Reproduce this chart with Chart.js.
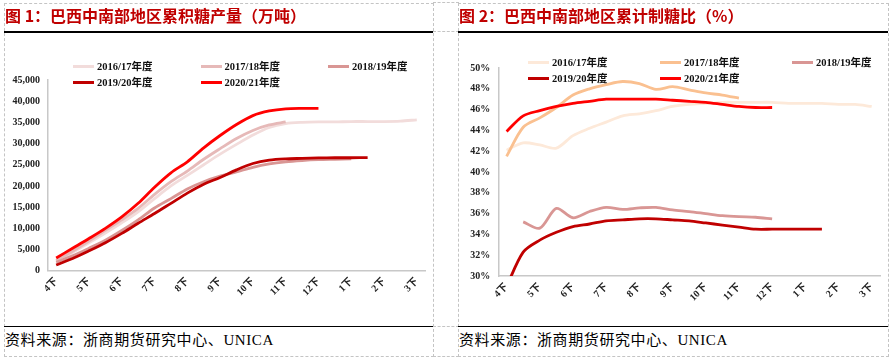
<!DOCTYPE html>
<html>
<head>
<meta charset="utf-8">
<script src="https://cdn.jsdelivr.net/npm/chart.js@4.4.1/dist/chart.umd.min.js"></script>
<style>
  body { margin: 0; background: #fff; width: 891px; height: 358px; position: relative; overflow: hidden; }
  .abs { position: absolute; }
  .dash { position: absolute; border: 1px dashed #c4c4c4; box-sizing: border-box; }
  .hl { position: absolute; height: 0; border-top: 1px dashed #c4c4c4; }
  .solid { position: absolute; height: 1.5px; background: #000; }
  .title { position: absolute; font: bold 16px "Noto Sans CJK SC", sans-serif; color: #c00000; white-space: nowrap; line-height: 20px; z-index: 3; }
  .src { position: absolute; font: 15px "Liberation Serif", "Noto Sans CJK SC", serif; color: #000; letter-spacing: 0.6px; white-space: nowrap; line-height: 20px; z-index: 3; }
  .leg { position: absolute; font: bold 10.5px "Liberation Serif", "Noto Sans CJK SC", serif; color: #111; white-space: nowrap; line-height: 14px; z-index: 3; }
  .leg i { display: inline-block; width: 21px; height: 3px; vertical-align: middle; margin-right: 3px; margin-top: -2px; }
  canvas { position: absolute; z-index: 2; }
</style>
</head>
<body>
<div class="dash" style="left:4px;top:3px;width:430px;height:354px;"></div>
<div class="dash" style="left:458px;top:3px;width:431px;height:354px;"></div>
<div class="hl" style="left:433px;top:2px;width:26px;"></div>
<div class="hl" style="left:433px;top:31px;width:26px;"></div>
<div class="hl" style="left:433px;top:326px;width:26px;"></div>
<div class="hl" style="left:433px;top:356px;width:26px;"></div>
<div class="solid" style="left:4px;top:31px;width:429px;"></div>
<div class="solid" style="left:458px;top:31px;width:430px;"></div>
<div class="solid" style="left:4px;top:325.5px;width:429px;"></div>
<div class="solid" style="left:458px;top:325.5px;width:430px;"></div>

<div class="title" style="left:5px;top:5px;">图 1：巴西中南部地区累积糖产量（万吨）</div>
<div class="title" style="left:459px;top:5px;">图 2：巴西中南部地区累计制糖比（%）</div>
<div class="src" style="left:5px;top:330px;">资料来源：浙商期货研究中心、UNICA</div>
<div class="src" style="left:459px;top:330px;">资料来源：浙商期货研究中心、UNICA</div>

<div id="leg1"></div>
<div id="leg2"></div>

<canvas id="c1" width="434" height="320" style="left:0;top:0;"></canvas>
<canvas id="c2" width="446" height="320" style="left:445px;top:0;"></canvas>

<script>
// 半月度：4下 ... 3下
const periods = ['4下','5上','5下','6上','6下','7上','7下','8上','8下','9上','9下','10上','10下','11上','11下','12上','12下','1上','1下','2上','2下','3上','3下'];
const seasons = ['2016/17年度', '2017/18年度', '2018/19年度', '2019/20年度', '2020/21年度'];

// 累积糖产量
const prod1617 = [2200, 4300, 6600, 8900, 11300, 13900, 17000, 20000, 22500, 25000, 27500, 29800, 32000, 33800, 34700, 35000, 35100, 35100, 35200, 35200, 35200, 35300, 35600];
const prod1718 = [2400, 4600, 7000, 9500, 12000, 14700, 18000, 21000, 23500, 26300, 28800, 31200, 33100, 34400, 35100];
const prod1819 = [2000, 3500, 5300, 7200, 9500, 12000, 14800, 17000, 19300, 21000, 22300, 23300, 24400, 25200, 25700, 26000, 26200, 26300, 26400];
const prod1920 = [1350, 2900, 4700, 6600, 8800, 11200, 13500, 15900, 18300, 20400, 22000, 23800, 25300, 26100, 26400, 26500, 26600, 26650, 26650, 26700];
const prod2021 = [3000, 5300, 7600, 10000, 12700, 15900, 19700, 23100, 25700, 29000, 31900, 34500, 36600, 37700, 38200, 38300, 38300];

// 累计制糖比 %
const tsr1617 = [42.1, 42.8, 42.6, 42.3, 43.5, 44.2, 44.8, 45.4, 45.6, 45.9, 46.3, 46.5, 46.6, 46.7, 46.7, 46.7, 46.7, 46.6, 46.6, 46.6, 46.5, 46.5, 46.3];
const tsr1718 = [41.5, 44.3, 45.2, 46.2, 47.4, 48.0, 48.4, 48.7, 48.5, 47.95, 48.2, 47.9, 47.6, 47.4, 47.1];
const tsr1819 = [null, 35.2, 34.6, 36.5, 35.6, 36.2, 36.6, 36.4, 36.55, 36.6, 36.35, 36.2, 36.0, 35.8, 35.7, 35.65, 35.5];
const tsr1920 = [29.0, 32.3, 33.45, 34.2, 34.75, 35.0, 35.3, 35.4, 35.5, 35.5, 35.4, 35.3, 35.1, 34.9, 34.7, 34.5, 34.5, 34.5, 34.5, 34.5];
const tsr2021 = [43.9, 45.4, 45.9, 46.3, 46.6, 46.8, 47.0, 47.0, 47.0, 47.0, 46.9, 46.8, 46.7, 46.5, 46.3, 46.2, 46.2];

const colors1 = ['#f2dcdb', '#e6b9b8', '#d99694', '#c00000', '#ff0000'];
const colors2 = ['#fde9d9', '#fac090', '#d99694', '#c00000', '#ff0000'];

const tickFont = { family: '"Liberation Serif", "Noto Sans CJK SC", serif', size: 10, weight: 'bold' };

function makeLegend(id, colors, left, top, colW) {
  const box = document.getElementById(id);
  seasons.forEach((s, i) => {
    const d = document.createElement('div');
    d.className = 'leg';
    d.style.left = (left + (i % 3) * colW) + 'px';
    d.style.top = (top + Math.floor(i / 3) * 16) + 'px';
    d.innerHTML = '<i style="background:' + colors[i] + '"></i>' + s;
    box.appendChild(d);
  });
}
makeLegend('leg1', colors1, 73, 60, 127.5);
makeLegend('leg2', colors2, 528, 56, 132);

function dsets(series, colors) {
  return series.map((d, i) => ({
    label: seasons[i],
    data: d,
    borderColor: colors[i],
    backgroundColor: colors[i],
    borderWidth: 2.8,
    pointRadius: 0,
    tension: 0.3,
    order: 5 - i
  }));
}

function makeChart(id, series, colors, yOpts, yWidth, xHeight, pad) {
  return new Chart(document.getElementById(id), {
    type: 'line',
    data: { labels: periods, datasets: dsets(series, colors) },
    options: {
      responsive: false,
      animation: false,
      devicePixelRatio: 1,
      layout: { padding: pad },
      plugins: { legend: { display: false }, title: { display: false }, tooltip: { enabled: false } },
      scales: {
        x: {
          offset: true,
          grid: { display: false, drawTicks: false },
          border: { display: true, color: '#c8c8c8', width: 1.5 },
          ticks: {
            autoSkip: false, minRotation: 45, maxRotation: 45, padding: 5,
            color: '#222', font: tickFont,
            callback: (v, i) => (i % 2 === 0 ? periods[i] : '')
          },
          afterFit: s => { s.height = xHeight; }
        },
        y: Object.assign({
          grid: { display: false, drawTicks: false },
          border: { display: true, color: '#c8c8c8', width: 1.5 },
          afterFit: s => { s.width = yWidth; }
        }, yOpts)
      }
    }
  });
}

makeChart('c1', [prod1617, prod1718, prod1819, prod1920, prod2021], colors1, {
  min: 0, max: 45000,
  ticks: { stepSize: 5000, padding: 8, color: '#222', font: tickFont }
}, 48, 49.3, { left: 0, right: 9, top: 80, bottom: 0 });

makeChart('c2', [tsr1617, tsr1718, tsr1819, tsr1920, tsr2021], colors2, {
  min: 30, max: 50,
  ticks: { stepSize: 2, padding: 8, color: '#222', font: tickFont, callback: v => v + '%' }
}, 53.3, 44, { left: 0, right: 11, top: 68, bottom: 0 });
</script>
</body>
</html>
